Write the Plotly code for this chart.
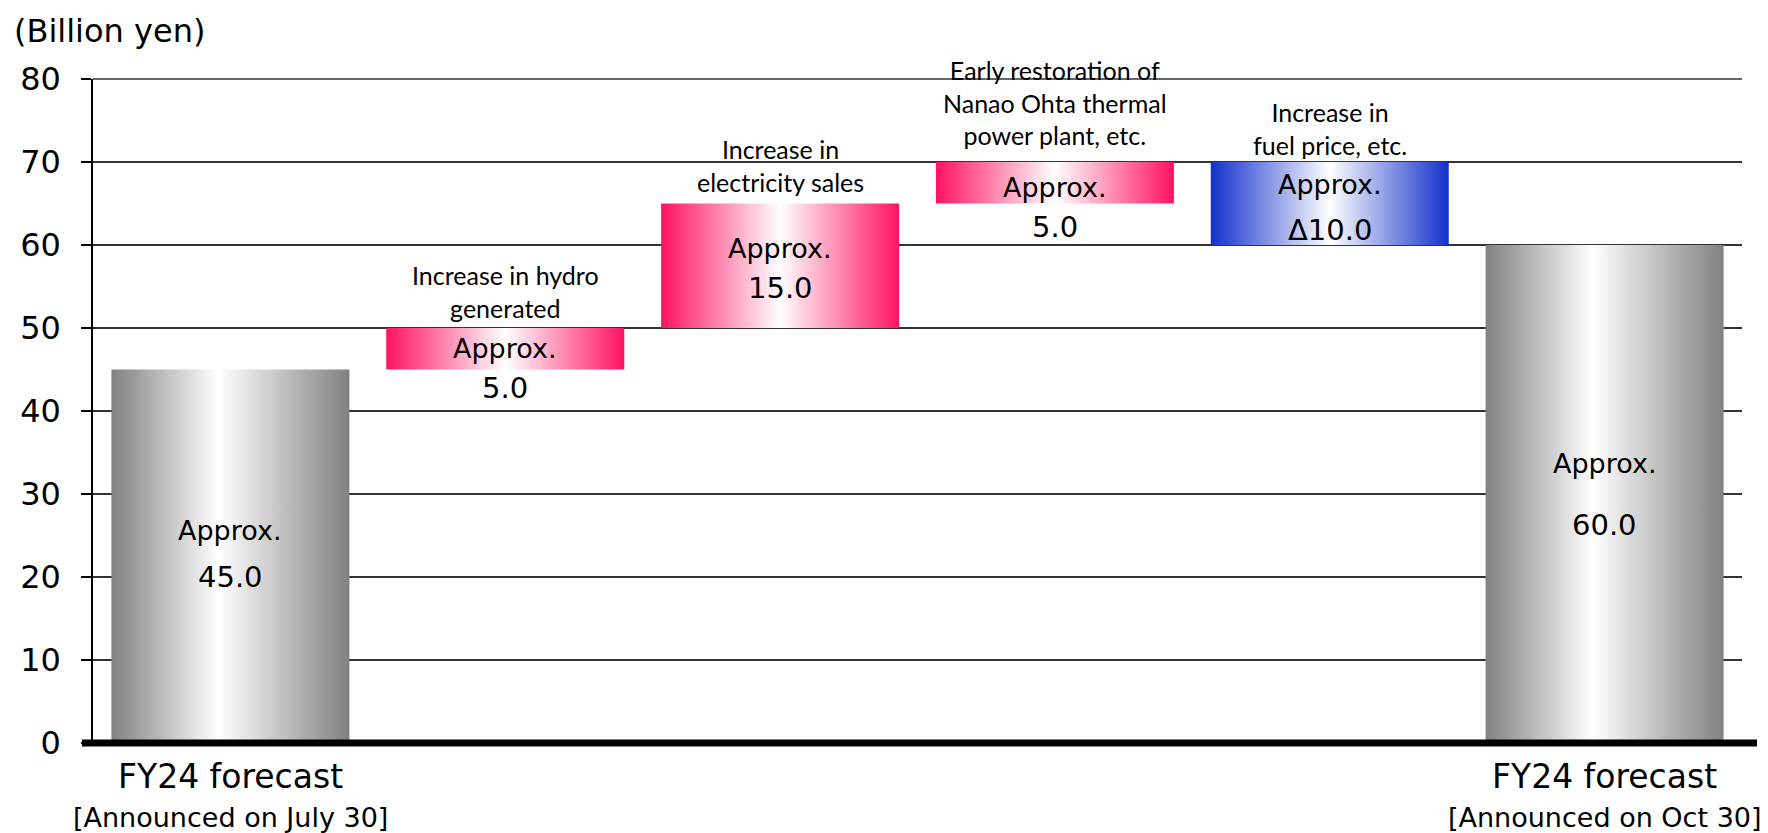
import plotly.graph_objects as go

# ---------------- data ----------------
step_values = [45.0, 5.0, 15.0, 5.0, -10.0, 60.0]
step_kinds = ["total", "delta", "delta", "delta", "delta", "total"]
value_texts = ["45.0", "5.0", "15.0", "5.0", "Δ10.0", "60.0"]
prefix_text = "Approx."
driver_labels = [
    "",
    "Increase in hydro<br>generated",
    "Increase in<br>electricity sales",
    "Early restoration of<br>Nanao Ohta thermal<br>power plant, etc.",
    "Increase in<br>fuel price, etc.",
    "",
]
cat_main = ["FY24 forecast", "", "", "", "", "FY24 forecast"]
cat_sub = ["[Announced on July 30]", "", "", "", "", "[Announced on Oct 30]"]
y_ticks = [0, 10, 20, 30, 40, 50, 60, 70, 80]
unit_label = "(Billion yen)"

# ---------------- styles ----------------
W, H = 1768, 833
ML, MR, MT, MB = 93, 26, 79, 90
PW = W - ML - MR
BAR_W = 0.866
COL_TOTAL = "#818181"
COL_UP = "#FF1262"
COL_DOWN = "#1230CC"
BIG = "DejaVu Sans"
SMALL = "Lato"
approx_shift = [26, 0, 17, -5, 19, 31]       # px, relative to bar middle
value_shift = [-21, -39, -22, -44, -26, -31]
driver_shift = [0, 3, 5, 10, 0, 0]
Y_MIN, Y_MAX = y_ticks[0], y_ticks[-1]

# waterfall bases
bases, tops = [], []
run = 0.0
for v, k in zip(step_values, step_kinds):
    if k == "total":
        b, t = 0.0, v
        run = v
    else:
        b, t = run, run + v
        run = run + v
    bases.append(min(b, t))
    tops.append(max(b, t))

fig = go.Figure()
for i, (v, k) in enumerate(zip(step_values, step_kinds)):
    if k == "total":
        c = COL_TOTAL
        scale = [[0, c], [0.45, "#FFFFFF"], [1, c]]
    elif v >= 0:
        c = COL_UP
        scale = [[0, c], [0.5, "#FFFFFF"], [1, c]]
    else:
        c = COL_DOWN
        scale = [[0, c], [0.5, "#FFFFFF"], [1, c]]
    x0, x1 = i - BAR_W / 2, i + BAR_W / 2
    fig.add_trace(go.Scatter(
        x=[x0, x1, x1, x0, x0],
        y=[bases[i], bases[i], tops[i], tops[i], bases[i]],
        mode="lines", fill="toself",
        fillgradient=dict(type="horizontal", colorscale=scale),
        line=dict(width=0), hoverinfo="skip", showlegend=False,
    ))

ann = []
for i in range(len(step_values)):
    mid = (bases[i] + tops[i]) / 2
    ann.append(dict(x=i, y=mid, xref="x", yref="y", text=prefix_text,
                    showarrow=False, yshift=approx_shift[i],
                    font=dict(family=BIG, size=27, color="#000")))
    ann.append(dict(x=i, y=mid, xref="x", yref="y", text=value_texts[i],
                    showarrow=False, yshift=value_shift[i],
                    font=dict(family=BIG, size=29, color="#000")))
    if driver_labels[i]:
        ann.append(dict(x=i, y=tops[i], xref="x", yref="y", text=driver_labels[i],
                        showarrow=False, yanchor="bottom", yshift=driver_shift[i],
                        font=dict(family=SMALL, size=25, color="#000")))
    if cat_main[i]:
        ann.append(dict(x=i, y=0, xref="x", yref="y", text=cat_main[i],
                        showarrow=False, yanchor="middle", yshift=-33,
                        font=dict(family=BIG, size=33, color="#000")))
        ann.append(dict(x=i, y=0, xref="x", yref="y", text=cat_sub[i],
                        showarrow=False, yanchor="middle", yshift=-74,
                        font=dict(family=BIG, size=27, color="#000")))

ann.append(dict(x=0, y=1, xref="paper", yref="paper", text=unit_label,
                showarrow=False, xanchor="left", yanchor="middle",
                xshift=-(ML - 12), yshift=MT - 31,
                font=dict(family=BIG, size=32, color="#000")))

base_paper = (0 - Y_MIN) / (Y_MAX - Y_MIN)
top_paper = (Y_MAX - Y_MIN) / (Y_MAX - Y_MIN)
fig.update_layout(
    width=W, height=H,
    margin=dict(l=ML, r=MR, t=MT, b=MB),
    paper_bgcolor="white", plot_bgcolor="white",
    annotations=ann,
    shapes=[
        dict(type="line", xref="paper", yref="paper",
             x0=0, x1=1, y0=top_paper, y1=top_paper,
             line=dict(color="#333333", width=1.5)),
        dict(type="line", xref="paper", yref="paper",
             x0=-(ML - 82) / PW, x1=1 + 15 / PW,
             y0=base_paper, y1=base_paper,
             line=dict(color="#000", width=7)),
    ],
    xaxis=dict(range=[-0.5, len(step_values) - 0.5], showgrid=False,
               zeroline=False, showticklabels=False, showline=False, ticks=""),
    yaxis=dict(range=[Y_MIN, Y_MAX], tickvals=y_ticks, showgrid=True,
               gridcolor="#333333", gridwidth=1.5, zeroline=False,
               showline=True, linecolor="#000", linewidth=1.5,
               ticks="outside", ticklen=10, tickcolor="#000", tickwidth=1.5,
               ticklabelstandoff=14,
               tickfont=dict(family=BIG, size=32, color="#000")),
)

fig.write_html("out.html")
